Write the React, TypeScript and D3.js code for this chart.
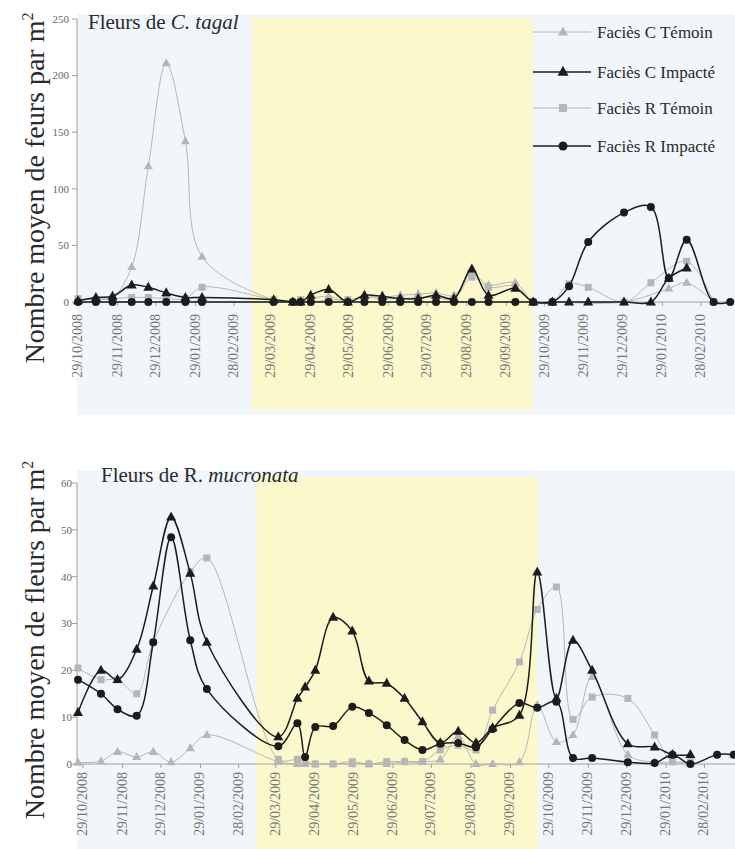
import React from "react";
import * as d3 from "d3";

// ---------- DATA ----------
const tagalDates = [
  "2008-10-29", "2008-11-12", "2008-11-25", "2008-12-10", "2008-12-23", "2009-01-06", "2009-01-21", "2009-02-03",
  "2009-03-31", "2009-04-15", "2009-04-21", "2009-04-29", "2009-05-13", "2009-05-28", "2009-06-10", "2009-06-24",
  "2009-07-08", "2009-07-22", "2009-08-05", "2009-08-19", "2009-09-02", "2009-09-15", "2009-10-06", "2009-10-20",
  "2009-11-04", "2009-11-17", "2009-12-02", "2009-12-30", "2010-01-20", "2010-02-03", "2010-02-17", "2010-03-10",
  "2010-03-23",
];
const mucronataDates = [
  "2008-10-25", "2008-11-12", "2008-11-25", "2008-12-10", "2008-12-23", "2009-01-06", "2009-01-21", "2009-02-03",
  "2009-03-31", "2009-04-15", "2009-04-21", "2009-04-29", "2009-05-13", "2009-05-28", "2009-06-10", "2009-06-24",
  "2009-07-08", "2009-07-22", "2009-08-05", "2009-08-19", "2009-09-02", "2009-09-15", "2009-10-06", "2009-10-20",
  "2009-11-04", "2009-11-17", "2009-12-02", "2009-12-30", "2010-01-20", "2010-02-03", "2010-02-17", "2010-03-10",
  "2010-03-23",
];

// C. tagal
const tagalCTemoin = [2, 3, 4, 31, 120, 211, 142, 40, 2, 0, 0, 3, 5, 0, 5, 4, 6, 7, 8, 6, 25, 15, 17, 0, 0, null, null, 0, null, 12, 17, 0, null];
const tagalCImpacte = [1, 4, 5, 15, 13, 8, 4, 4, 2, 0, 0, 6, 11, 0, 6, 5, 3, 3, 6, 3, 29, 6, 12, 0, 0, 0, 0, 0, 0, 21, 30, null, null];
const tagalRTemoin = [3, 2, 3, 4, 4, 3, 3, 13, 2, 0, 2, 0, 2, 2, 4, 3, 3, 4, 4, 3, 22, 13, 14, 0, 0, 16, 13, 0, 17, null, 36, 0, null];
const tagalRImpacte = [0, 0, 0, 0, 0, 0, 0, 0, 0, 0, 0, 0, 0, 0, 0, 0, 0, 0, 0, 0, 0, 0, 0, 0, 0, 14, 53, 79, 84, 21, 55, 0, 0];

// R. mucronata
const mucroCTemoin = [0.3, 0.6, 2.6, 1.5, 2.6, 0.4, 3.4, 6.2, 0.5, 0, 0, 0, 0, 0, 0, 0, 0.5, 0.5, 1, 6, 0, 0, 0.4, 12.6, 4.7, 6.2, 18.6, 2, 0.4, 0.4, 0.4, null, null];
const mucroCImpacte = [11, 20, 18, 24.5, 38, 52.7, 40.7, 26, 5.8, 14, 16.4, 20, 31.3, 28.4, 17.7, 17.2, 14, 9, 4.5, 7, 4.5, 7.7, 10.4, 41, 14, 26.4, 20, 4.3, 3.6, 2, 2, null, null];
const mucroRTemoin = [20.5, 18, 18, 15, 26, null, 41, 44, 1, 1, 0.5, 0, 0, 0.5, 0, 0.5, 0.5, 0.5, 3, 4, 3, 11.5, 21.8, 33, 37.8, 9.5, 14.3, 14, 6.2, 0.5, 0.5, null, null];
const mucroRImpacte = [18, 15, 11.7, 10.3, 26, 48.4, 26.4, 16, 3.8, 8.7, 1.5, 7.9, 8.1, 12.2, 10.9, 8.3, 5.1, 3, 4.3, 4.5, 3.6, 7.5, 13, 12, 13.3, 1.3, 1.3, 0.4, 0.2, 2, 0, 2, 2];

const tickDates = [
  "2008-10-29", "2008-11-29", "2008-12-29", "2009-01-29", "2009-02-28", "2009-03-29", "2009-04-29", "2009-05-29",
  "2009-06-29", "2009-07-29", "2009-08-29", "2009-09-29", "2009-10-29", "2009-11-29", "2009-12-29", "2010-01-29",
  "2010-02-28",
];
const tickLabels = [
  "29/10/2008", "29/11/2008", "29/12/2008", "29/01/2009", "28/02/2009", "29/03/2009", "29/04/2009", "29/05/2009",
  "29/06/2009", "29/07/2009", "29/08/2009", "29/09/2009", "29/10/2009", "29/11/2009", "29/12/2009", "29/01/2010",
  "28/02/2010",
];
const tagalYTicks = [0, 50, 100, 150, 200, 250];
const mucroYTicks = [0, 10, 20, 30, 40, 50, 60];
const bandDates = ["2009-03-14", "2009-10-20"];
const legendLabels = ["Faciès C Témoin", "Faciès C Impacté", "Faciès R Témoin", "Faciès R Impacté"];

// ---------- STYLE ----------
const parse = d3.timeParse("%Y-%m-%d");
const FONT = "'Liberation Serif', 'DejaVu Serif', serif";
const GRAY = "#b6b6b6";
const BLACK = "#1c1c1c";
const BLUE = "#f1f6fb";
const YELLOW = "#fbf9cb";
const AXIS = "#a0a0a0";

type Style = { color: string; width: number; marker: "tri" | "sq" | "circ"; size: number };
const styles: Style[] = [
  { color: GRAY, width: 1, marker: "tri", size: 9 },
  { color: BLACK, width: 1.5, marker: "tri", size: 10 },
  { color: GRAY, width: 1, marker: "sq", size: 7 },
  { color: BLACK, width: 1.5, marker: "circ", size: 8 },
];

function Marker({ kind, x, y, size, color }: { kind: string; x: number; y: number; size: number; color: string }) {
  if (kind === "tri") {
    const h = size * 0.9;
    return <path d={`M${x},${y - h * 0.62}L${x + size / 2},${y + h * 0.38}L${x - size / 2},${y + h * 0.38}Z`} fill={color} />;
  }
  if (kind === "sq") return <rect x={x - size / 2} y={y - size / 2} width={size} height={size} fill={color} />;
  return <circle cx={x} cy={y} r={size / 2} fill={color} />;
}

function Panel({
  dates, series, xDomain, xRange, yDomain, yRange, yTicks, yLabelRight, bandTop, bandBottom, bgTop, bgBottom,
  labelTop, title, yTitle, yTitleCenter,
}: any) {
  const x = d3.scaleTime().domain(xDomain.map(parse)).range(xRange);
  const y = d3.scaleLinear().domain(yDomain).range(yRange);
  const parsed = dates.map(parse);
  const line = d3
    .line<[Date, number]>()
    .x((d) => x(d[0]))
    .y((d) => y(d[1]))
    .curve(d3.curveCatmullRom.alpha(0.5));
  const order = [0, 2, 1, 3];
  return (
    <g>
      <rect x={xRange[0] - 1} y={bgTop} width={735 - xRange[0] + 1} height={bgBottom - bgTop} fill={BLUE} />
      <rect
        x={x(parse(bandDates[0])!)}
        y={bandTop}
        width={x(parse(bandDates[1])!) - x(parse(bandDates[0])!)}
        height={bandBottom - bandTop}
        fill={YELLOW}
      />
      {/* axes */}
      <line x1={77} x2={77} y1={yRange[1]} y2={yRange[0]} stroke={AXIS} strokeWidth={1} />
      <line x1={77} x2={735} y1={yRange[0]} y2={yRange[0]} stroke={AXIS} strokeWidth={1} />
      {yTicks.map((t: number) => (
        <g key={t}>
          <line x1={72} x2={77} y1={y(t)} y2={y(t)} stroke={AXIS} />
          <text x={yLabelRight} y={y(t)} dy="0.35em" textAnchor="end" fontSize={11} fill="#666" fontFamily={FONT}>
            {t}
          </text>
        </g>
      ))}
      {tickDates.map((d, i) => {
        const xx = x(parse(d)!);
        return (
          <g key={d}>
            <line x1={xx} x2={xx} y1={yRange[0]} y2={yRange[0] + 4} stroke={AXIS} />
            <text
              transform={`translate(${xx + 4},${labelTop}) rotate(-90)`}
              textAnchor="end"
              fontSize={14}
              fill="#777"
              fontFamily={FONT}
            >
              {tickLabels[i]}
            </text>
          </g>
        );
      })}
      {/* series */}
      {order.map((si) => {
        const st = styles[si];
        const pts: [Date, number][] = [];
        series[si].forEach((v: number | null, i: number) => {
          if (v !== null) pts.push([parsed[i], v]);
        });
        return (
          <g key={si}>
            <path d={line(pts) || ""} fill="none" stroke={st.color} strokeWidth={st.width} />
            {pts.map((p, k) => (
              <Marker key={k} kind={st.marker} x={x(p[0])} y={y(p[1])} size={st.size} color={st.color} />
            ))}
          </g>
        );
      })}
      {title}
      <text
        transform={`translate(44,${yTitleCenter}) rotate(-90)`}
        textAnchor="middle"
        fontSize={28}
        fill="#2a2a2a"
        fontFamily={FONT}
      >
        {yTitle}
        <tspan fontSize={16} dy={-11}>2</tspan>
      </text>
    </g>
  );
}

export default function App() {
  const legendY = [32, 72, 108, 146];
  return (
    <div style={{ position: "absolute", left: 0, top: 0 }}>
      <svg width={735} height={849} style={{ display: "block", background: "#fff" }}>
        <Panel
          dates={tagalDates}
          series={[tagalCTemoin, tagalCImpacte, tagalRTemoin, tagalRImpacte]}
          xDomain={["2008-10-29", "2010-03-26"]}
          xRange={[78, 734]}
          yDomain={[0, 250]}
          yRange={[302, 19]}
          yTicks={tagalYTicks}
          yLabelRight={69}
          bandTop={18}
          bandBottom={410}
          bgTop={14}
          bgBottom={415}
          labelTop={314}
          yTitle="Nombre moyen de feurs par m"
          yTitleCenter={188}
          title={
            <text x={88} y={29} fontSize={21} fill="#2a2a2a" fontFamily={FONT}>
              Fleurs de <tspan fontStyle="italic">C. tagal</tspan>
            </text>
          }
        />
        <Panel
          dates={mucronataDates}
          series={[mucroCTemoin, mucroCImpacte, mucroRTemoin, mucroRImpacte]}
          xDomain={["2008-10-25", "2010-03-24"]}
          xRange={[78, 735]}
          yDomain={[0, 60]}
          yRange={[764, 483]}
          yTicks={mucroYTicks}
          yLabelRight={72}
          bandTop={477}
          bandBottom={849}
          bgTop={470}
          bgBottom={849}
          labelTop={772}
          yTitle="Nombre moyen de fleurs par m"
          yTitleCenter={640}
          title={
            <text x={101} y={482} fontSize={21} fill="#2a2a2a" fontFamily={FONT}>
              Fleurs de R. <tspan fontStyle="italic">mucronata</tspan>
            </text>
          }
        />
        {/* legend */}
        {legendLabels.map((lab, i) => {
          const st = styles[i];
          return (
            <g key={lab}>
              <line x1={533} x2={591} y1={legendY[i]} y2={legendY[i]} stroke={st.color} strokeWidth={st.width} />
              <Marker kind={st.marker} x={563} y={legendY[i]} size={st.size + 1} color={st.color} />
              <text x={597} y={legendY[i]} dy="0.35em" fontSize={17} fill="#2a2a2a" fontFamily={FONT}>
                {lab}
              </text>
            </g>
          );
        })}
      </svg>
    </div>
  );
}
